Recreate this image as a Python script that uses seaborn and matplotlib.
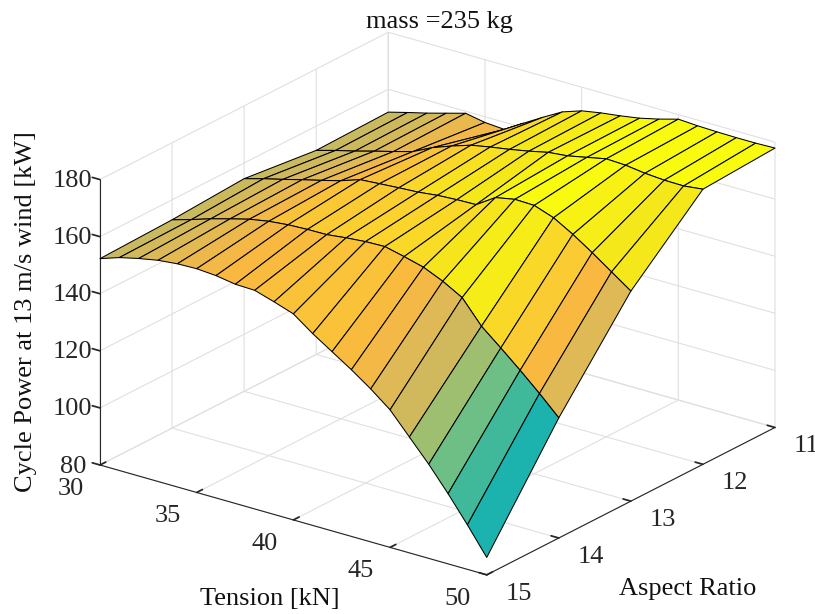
import numpy as np
import matplotlib
matplotlib.use("Agg")
import matplotlib.pyplot as plt
import seaborn as sns
from mpl_toolkits.mplot3d import proj3d

tension = list(range(30, 51))
aspect_ratio = [15, 14, 13, 12, 11]
power_ar15 = [152.3,154.6,156.2,157.5,158.2,158.4,157.9,156.8,156.6,154.5,152.2,147.2,142.8,138.4,133.6,128.2,120.6,113.0,104.6,95.6,86.1]
power_ar14 = [153.0,155.0,157.2,159.1,160.9,162.1,162.8,163.1,163.2,164.0,164.6,164.8,163.2,161.4,158.4,154.6,146.5,140.8,134.9,128.7,122.1]
power_ar13 = [154.5,156.4,158.1,159.9,161.6,163.4,165.7,166.2,166.7,167.1,167.9,168.3,168.5,172.9,174.2,174.0,171.6,167.7,163.2,158.4,153.6]
power_ar12 = [151.5,153.4,155.1,157.0,158.8,160.7,164.0,166.5,168.7,170.0,171.1,172.4,173.9,174.6,176.0,177.4,177.1,176.2,175.7,175.6,176.4]
power_ar11 = [152.0,153.8,155.5,157.4,159.3,158.0,157.5,161.6,165.6,169.4,171.7,172.9,173.8,174.9,176.5,178.4,178.0,177.8,177.7,177.7,177.9]
# colour value of each facet (one band per pair of aspect ratios)
shade_15_14 = [.40,.45,.48,.52,.55,.58,.60,.62,.64,.66,.67,.66,.62,.58,.50,.43,.30,.20,.10,.00]
shade_14_13 = [.41,.45,.50,.54,.58,.66,.70,.72,.74,.76,.78,.80,.82,.88,.92,.92,.80,.72,.60,.50]
shade_13_12 = [.40,.43,.46,.50,.55,.60,.66,.72,.80,.85,.88,.90,.94,1.0,1.0,1.0,.95,.93,.90,.90]
shade_12_11 = [.40,.42,.45,.50,.54,.58,.62,.72,.80,.88,.90,.92,.95,1.0,1.0,1.0,1.0,1.0,1.0,1.0]
colors = ["#1cb2ae","#3fb99a","#6fbf85","#9fbf70","#c9b95f","#dfb956","#f9b840","#fcd030","#f5e81a","#f9fb0e"]
color_nodes = [0,.1,.2,.3,.4,.5,.6,.75,.9,1.0]
z_ticks = [80,100,120,140,160,180]
x_ticks = [30,35,40,45,50]
y_ticks = [15,14,13,12,11]

sns.set_theme(style="white")
plt.rcParams["font.family"] = ["Liberation Serif"]
cmap = sns.blend_palette(colors, as_cmap=True)

T, A = np.meshgrid(tension, aspect_ratio)
Z = np.array([power_ar15, power_ar14, power_ar13, power_ar12, power_ar11])
C = np.array([shade_15_14, shade_14_13, shade_13_12, shade_12_11])
C = np.pad(C, ((0,1),(0,1)), mode="edge")
C = np.interp(C, color_nodes, np.linspace(0, 1, len(colors)))

fig = plt.figure(figsize=(8.15, 6.14), dpi=100)
ax = fig.add_axes([0.0, 0.0, 1.0, 1.0], projection="3d", proj_type="ortho")
ax.patch.set_alpha(0)
ax.plot_surface(T, A, Z, facecolors=cmap(C), edgecolor="black", linewidth=0.75,
                rstride=1, cstride=1, shade=False, antialiased=True)
ax.set_xlim(30, 50, view_margin=0)
ax.set_ylim(15, 11, view_margin=0)
ax.set_zlim(80, 180, view_margin=0)
ax.set_box_aspect((1, 1, 0.64))
ax.view_init(elev=22.4, azim=-53.3)

ax.set_xticks(x_ticks)
ax.set_yticks(y_ticks)
ax.set_zticks(z_ticks)
ax.set_xticklabels([str(v) for v in x_ticks], ha="right", va="center")
ax.set_yticklabels([str(v) for v in y_ticks], ha="left", va="center")
ax.set_zticklabels([str(v) for v in z_ticks], ha="center", va="center")
ax.zaxis.set_ticks_position("upper")
for a in (ax.xaxis, ax.yaxis, ax.zaxis):
    a.set_pane_color((1,1,1,0))
    a.pane.set_edgecolor("#e0e0e0")
    a.line.set_color("#262626")
    a.line.set_linewidth(0.8)
    a._axinfo["grid"]["color"] = "#e0e0e0"
    a._axinfo["grid"]["linewidth"] = 0.8
    a._axinfo["tick"]["inward_factor"] = 0.0
    a._axinfo["tick"]["outward_factor"] = 0.25
    a._axinfo["tick"]["color"] = "#262626"
ax.grid(True)
ax.tick_params(labelsize=19, colors="#262626")
ax.tick_params(axis="x", pad=7)
ax.tick_params(axis="y", pad=5)
ax.tick_params(axis="z", pad=3)

W, H = fig.get_size_inches()*fig.dpi
def px(x,y,z):
    u,v,_ = proj3d.proj_transform(x,y,z,ax.get_proj())
    return ax.transData.transform((u,v))
target_a = np.array([100, H-465.]); target_b = np.array([775, H-428.])
for _ in range(4):
    fig.canvas.draw()
    a,b = px(30,15,80), px(50,11,80)
    s = (target_b[0]-target_a[0])/(b[0]-a[0])
    bb = ax.get_window_extent()
    p0 = (target_a[0]-(a[0]-bb.x0)*s)/W, (target_a[1]-(a[1]-bb.y0)*s)/H
    ax.set_position([p0[0], p0[1], bb.width*s/W, bb.height*s/H])

fig.text(439/W, 1-22/H, "mass =235 kg", ha="center", va="center", fontsize=19, color="#111111")
fig.text(270/W, 1-599/H, "Tension [kN]", ha="center", va="center", fontsize=19, color="#111111")
fig.text(688/W, 1-589/H, "Aspect Ratio", ha="center", va="center", fontsize=19, color="#111111")
fig.text(26/W, 1-312/H, "Cycle Power at 13 m/s wind [kW]", rotation=90, ha="center", va="center", fontsize=19, color="#111111")
fig.savefig("out.png", dpi=100)
